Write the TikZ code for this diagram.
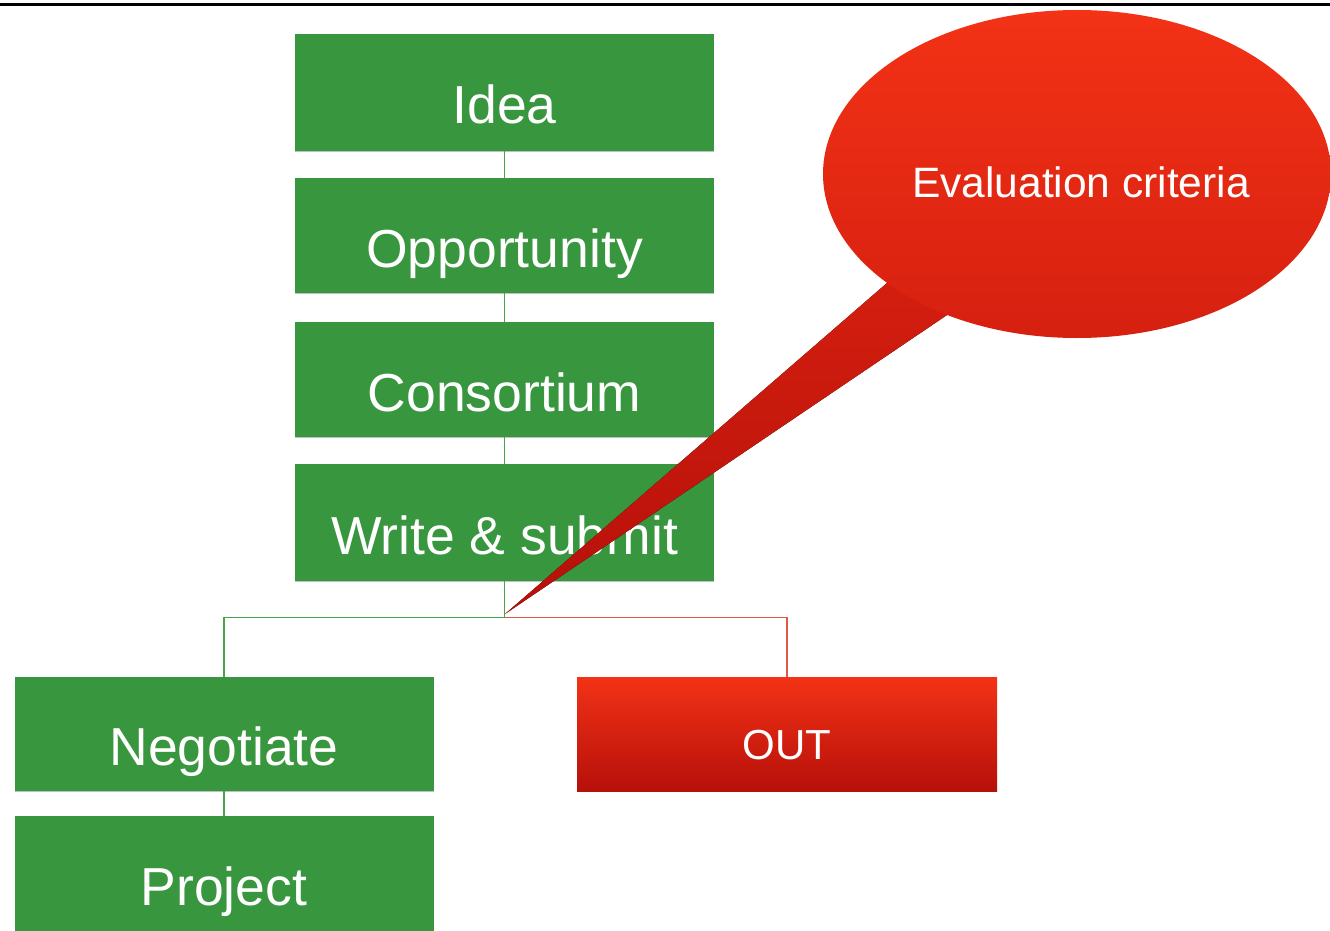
\documentclass[tikz,border=0pt]{standalone}
\usepackage{fontspec}
\setmainfont{Liberation Sans}
\usetikzlibrary{shapes.geometric,shadows}
\definecolor{boxgreen}{RGB}{56,150,62}
\definecolor{linegreen}{RGB}{70,165,75}
\definecolor{linered}{RGB}{222,90,70}
\definecolor{redtop}{RGB}{243,50,22}
\definecolor{redmid}{RGB}{214,32,16}
\definecolor{redbot}{RGB}{182,16,10}
\begin{document}
\begin{tikzpicture}[x=1pt,y=-1pt,
  gbox/.style={fill=boxgreen, minimum width=419pt, inner sep=0pt, text=white,
    font=\fontsize{53.5}{58}\selectfont, text height=63pt, text depth=0pt,
    drop shadow={shadow xshift=0pt, shadow yshift=-1pt, opacity=0.25, fill=black}},
  rbox/.style={minimum width=420pt, minimum height=114pt, inner sep=0pt, text=white,
    top color=redtop, bottom color=redbot,
    font=\fontsize{42}{46}\selectfont, text height=50pt, text depth=0pt},
  gline/.style={draw=linegreen, line width=1.2pt},
  rline/.style={draw=linered, line width=1.2pt},
]
\useasboundingbox (0,0) rectangle (1330,931);
\clip (0,0) rectangle (1330,931);

\draw[line width=3pt] (0,5) -- (1330,5);

\node[gbox, minimum height=117pt] (idea) at (504.5,92.5) {Idea};
\node[gbox, minimum height=115pt] (opp) at (504.5,235.5) {Opportunity};
\node[gbox, minimum height=115pt] (cons) at (504.5,379.5) {Consortium};
\node[gbox, minimum height=117pt] (write) at (504.5,522.5) {Write \& submit};
\node[gbox, minimum height=114pt] (neg) at (224,734) {Negotiate};
\node[gbox, minimum height=116pt] (proj) at (224,874) {Project};
\node[rbox] (out) at (787,734) {OUT};

\draw[gline] (idea.south) -- (opp.north);
\draw[gline] (opp.south) -- (cons.north);
\draw[gline] (cons.south) -- (write.north);
\draw[gline] (write.south) -- ++(0,36) coordinate (j);
\draw[gline] (j) -| (neg.north);
\draw[rline] (j) -| (out.north);
\draw[gline] (neg.south) -- (proj.north);

% callout
\coordinate (tip) at (505,614);
\fill[top color=redmid, bottom color=redbot] (887,283) -- (tip) -- (947,315) -- (920,250) -- cycle;
\node[ellipse, minimum width=508pt, minimum height=328pt, inner sep=0pt,
  top color=redtop, bottom color=redmid] (bubble) at (1077,174) {};
\node[text=white, font=\fontsize{42.5}{46}\selectfont, anchor=base] (crit) at (1081,197) {Evaluation criteria};
\end{tikzpicture}
\end{document}
